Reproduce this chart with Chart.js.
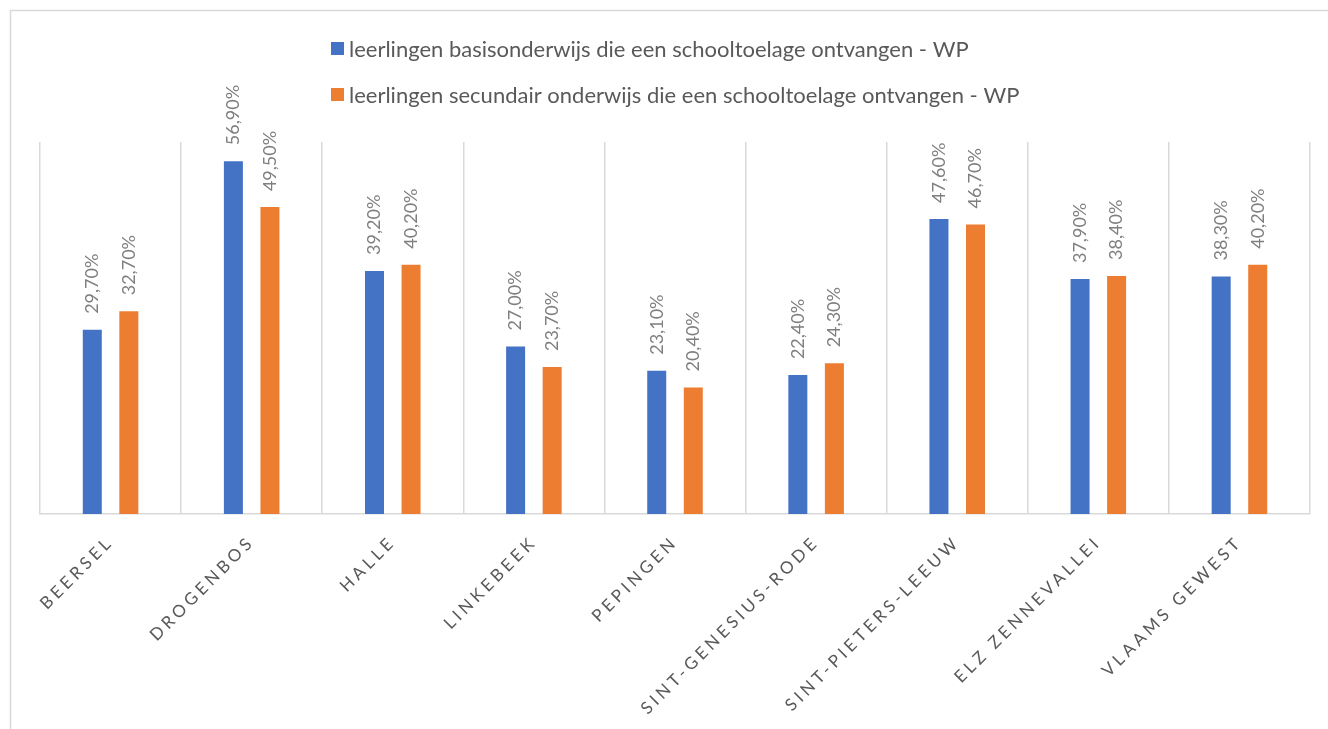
<!DOCTYPE html>
<html>
<head>
<meta charset="utf-8">
<script src="https://cdn.jsdelivr.net/npm/chart.js@4.4.1/dist/chart.umd.min.js"></script>
<style>
  html, body { margin: 0; padding: 0; background: #fff; }
  #wrap { width: 1328px; height: 729px; position: relative; }
</style>
</head>
<body>
<div id="wrap"><canvas id="chart"></canvas></div>
<script>
const categories = [
  "BEERSEL",
  "DROGENBOS",
  "HALLE",
  "LINKEBEEK",
  "PEPINGEN",
  "SINT-GENESIUS-RODE",
  "SINT-PIETERS-LEEUW",
  "ELZ ZENNEVALLEI",
  "VLAAMS GEWEST",
];
const basisValues = [29.7, 56.9, 39.2, 27.0, 23.1, 22.4, 47.6, 37.9, 38.3];
const secundairValues = [32.7, 49.5, 40.2, 23.7, 20.4, 24.3, 46.7, 38.4, 40.2];
const seriesNames = [
  "leerlingen basisonderwijs die een schooltoelage ontvangen - WP",
  "leerlingen secundair onderwijs die een schooltoelage ontvangen - WP",
];

const colors = {
  blue: "#4472C4",
  orange: "#ED7D31",
  grid: "#d9d9d9",
  text: "#595959",
  valueText: "#7f7f7f",
};
const fontFamily = "Lato, 'Open Sans', sans-serif";

const formatPct = (v) => v.toFixed(2).replace(".", ",") + "%";

// frame, legend, rotated value labels and spaced category labels
const decorPlugin = {
  id: "decor",
  beforeDraw(chart) {
    const ctx = chart.ctx;
    ctx.save();
    ctx.fillStyle = "#fff";
    ctx.fillRect(0, 0, chart.width, chart.height);
    ctx.strokeStyle = colors.grid;
    ctx.lineWidth = 1.5;
    ctx.beginPath();
    ctx.moveTo(10.5, chart.height);
    ctx.lineTo(10.5, 10.5);
    ctx.lineTo(chart.width, 10.5);
    ctx.stroke();
    ctx.restore();
  },
  afterDatasetsDraw(chart) {
    const ctx = chart.ctx;
    ctx.save();
    ctx.font = "18px " + fontFamily;
    ctx.fillStyle = colors.valueText;
    ctx.textAlign = "left";
    ctx.textBaseline = "middle";
    chart.data.datasets.forEach((ds, di) => {
      chart.getDatasetMeta(di).data.forEach((bar, i) => {
        ctx.save();
        ctx.translate(bar.x, bar.y - 16);
        ctx.rotate(-Math.PI / 2);
        ctx.fillText(formatPct(ds.data[i]), 0, 0);
        ctx.restore();
      });
    });
    ctx.restore();
  },
  afterDraw(chart) {
    const ctx = chart.ctx;
    const xScale = chart.scales.x;
    ctx.save();
    // legend
    ctx.font = "22px " + fontFamily;
    ctx.textAlign = "left";
    ctx.textBaseline = "middle";
    chart.data.datasets.forEach((ds, di) => {
      const y = 48.5 + di * 46;
      ctx.fillStyle = ds.backgroundColor;
      ctx.fillRect(331, y - 6.5, 13, 13);
      ctx.fillStyle = colors.text;
      ctx.fillText(ds.label, 349, y + 1);
    });
    // category labels
    ctx.font = "17px " + fontFamily;
    ctx.letterSpacing = "3.75px";
    ctx.fillStyle = colors.text;
    ctx.textAlign = "right";
    ctx.textBaseline = "middle";
    chart.data.labels.forEach((label, i) => {
      ctx.save();
      ctx.translate(xScale.getPixelForValue(i), xScale.bottom + 25);
      ctx.rotate(-Math.PI / 4);
      ctx.fillText(label, 0, 0);
      ctx.restore();
    });
    ctx.restore();
  },
};

new Chart(document.getElementById("chart"), {
  type: "bar",
  data: {
    labels: categories,
    datasets: [
      {
        label: seriesNames[0],
        data: basisValues,
        backgroundColor: colors.blue,
      },
      {
        label: seriesNames[1],
        data: secundairValues,
        backgroundColor: colors.orange,
      },
    ],
  },
  options: {
    responsive: true,
    maintainAspectRatio: false,
    animation: false,
    categoryPercentage: 0.518,
    barPercentage: 0.52,
    layout: {
      padding: { left: 40, right: 18, top: 142, bottom: 215 },
    },
    plugins: {
      legend: { display: false },
      tooltip: { enabled: false },
    },
    scales: {
      x: {
        grid: {
          offset: true,
          color: colors.grid,
          lineWidth: 1.5,
          drawTicks: false,
        },
        border: { color: colors.grid, width: 1.5 },
        ticks: { display: false },
      },
      y: {
        display: false,
        min: 0,
        max: 60,
      },
    },
  },
  plugins: [decorPlugin],
});
</script>
</body>
</html>
